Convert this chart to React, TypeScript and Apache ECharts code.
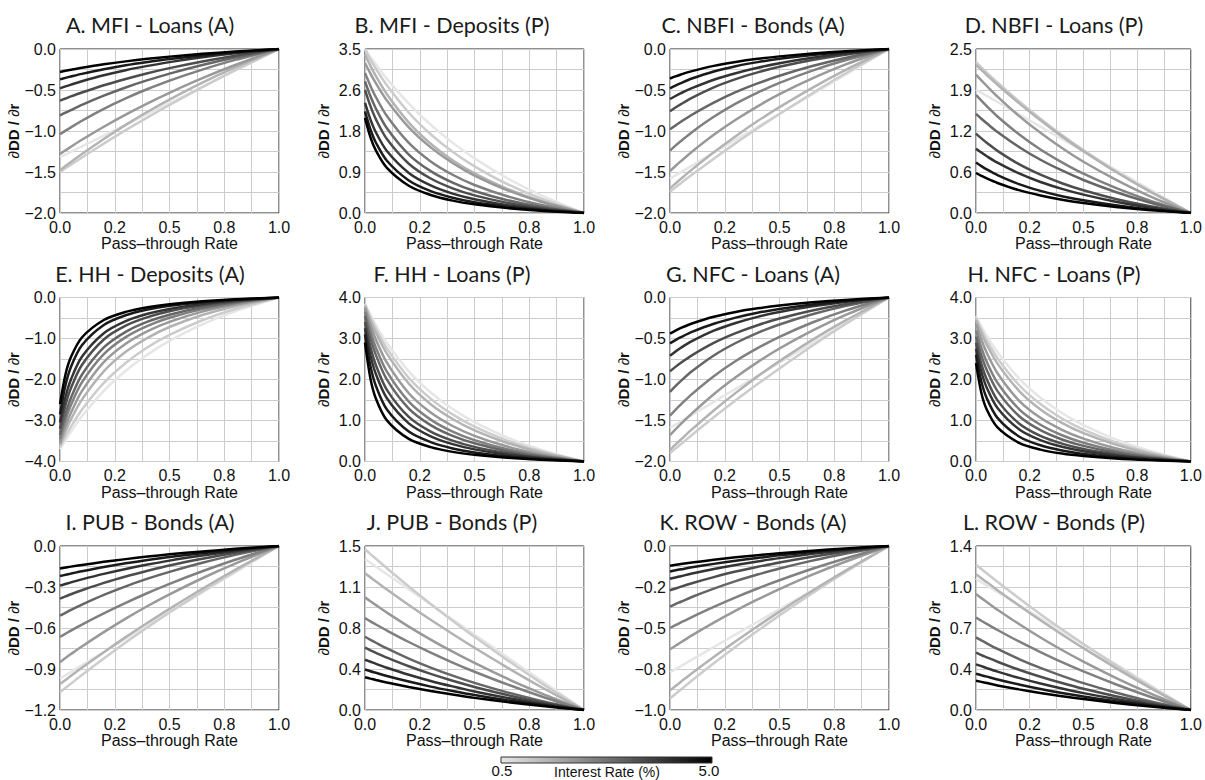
import React, { useEffect, useRef } from "react";
import * as echarts from "echarts";

// ---------- data ----------
const RATES = [0.5, 1.0, 1.5, 2.0, 2.5, 3.0, 3.5, 4.0, 4.5, 5.0];
const PASS_THROUGH = [0, 0.025, 0.05, 0.1, 0.2, 0.3, 0.4, 0.5, 0.65, 0.8, 1];
const X_TICK_LABELS = ["0.0", "0.2", "0.5", "0.8", "1.0"];

const A_MFI_LOANS = [
  [-1.32, -1.287, -1.254, -1.188, -1.056, -0.924, -0.792, -0.66, -0.462, -0.264, 0],
  [-1.5, -1.455, -1.412, -1.323, -1.154, -0.99, -0.834, -0.683, -0.465, -0.258, 0],
  [-1.48, -1.428, -1.378, -1.28, -1.097, -0.925, -0.765, -0.617, -0.411, -0.225, 0],
  [-1.28, -1.235, -1.192, -1.107, -0.948, -0.8, -0.662, -0.534, -0.356, -0.195, 0],
  [-1.04, -0.996, -0.955, -0.875, -0.73, -0.602, -0.488, -0.385, -0.251, -0.133, 0],
  [-0.81, -0.776, -0.744, -0.681, -0.569, -0.469, -0.38, -0.3, -0.195, -0.104, 0],
  [-0.63, -0.604, -0.578, -0.53, -0.442, -0.365, -0.295, -0.233, -0.152, -0.081, 0],
  [-0.48, -0.456, -0.434, -0.393, -0.32, -0.258, -0.206, -0.16, -0.102, -0.053, 0],
  [-0.37, -0.352, -0.335, -0.303, -0.247, -0.199, -0.159, -0.123, -0.078, -0.041, 0],
  [-0.28, -0.266, -0.253, -0.229, -0.187, -0.151, -0.12, -0.093, -0.059, -0.031, 0],
];
const B_MFI_DEPOSITS = [
  [3.5, 3.329, 3.168, 2.863, 2.335, 1.883, 1.502, 1.166, 0.742, 0.389, 0],
  [3.48, 3.271, 3.076, 2.725, 2.14, 1.681, 1.305, 0.995, 0.616, 0.317, 0],
  [3.38, 3.14, 2.92, 2.535, 1.93, 1.479, 1.126, 0.845, 0.514, 0.26, 0],
  [3.2, 2.973, 2.765, 2.4, 1.827, 1.4, 1.066, 0.8, 0.486, 0.246, 0],
  [2.99, 2.712, 2.47, 2.069, 1.495, 1.1, 0.816, 0.598, 0.356, 0.176, 0],
  [2.81, 2.49, 2.226, 1.807, 1.248, 0.894, 0.649, 0.469, 0.273, 0.135, 0],
  [2.63, 2.28, 1.999, 1.578, 1.052, 0.736, 0.526, 0.376, 0.216, 0.105, 0],
  [2.35, 1.993, 1.718, 1.322, 0.855, 0.588, 0.414, 0.294, 0.167, 0.08, 0],
  [2.17, 1.782, 1.499, 1.115, 0.694, 0.467, 0.326, 0.228, 0.13, 0.063, 0],
  [2.03, 1.616, 1.33, 0.962, 0.581, 0.384, 0.264, 0.185, 0.104, 0.049, 0],
];
const C_NBFI_BONDS = [
  [-1.58, -1.541, -1.501, -1.422, -1.264, -1.106, -0.948, -0.79, -0.553, -0.316, 0],
  [-1.74, -1.688, -1.637, -1.535, -1.338, -1.148, -0.967, -0.792, -0.539, -0.299, 0],
  [-1.7, -1.641, -1.583, -1.471, -1.26, -1.063, -0.879, -0.709, -0.473, -0.258, 0],
  [-1.49, -1.427, -1.368, -1.253, -1.046, -0.863, -0.699, -0.551, -0.359, -0.191, 0],
  [-1.24, -1.179, -1.122, -1.014, -0.827, -0.667, -0.532, -0.413, -0.263, -0.138, 0],
  [-0.98, -0.932, -0.887, -0.802, -0.654, -0.527, -0.42, -0.326, -0.208, -0.109, 0],
  [-0.76, -0.714, -0.672, -0.595, -0.467, -0.367, -0.285, -0.217, -0.135, -0.069, 0],
  [-0.61, -0.573, -0.539, -0.478, -0.375, -0.295, -0.229, -0.174, -0.108, -0.056, 0],
  [-0.48, -0.446, -0.415, -0.36, -0.274, -0.21, -0.16, -0.12, -0.073, -0.037, 0],
  [-0.36, -0.334, -0.311, -0.27, -0.206, -0.158, -0.12, -0.09, -0.055, -0.028, 0],
];
const D_NBFI_LOANS = [
  [1.88, 1.833, 1.786, 1.692, 1.504, 1.316, 1.128, 0.94, 0.658, 0.376, 0],
  [2.3, 2.22, 2.141, 1.99, 1.704, 1.438, 1.189, 0.959, 0.639, 0.35, 0],
  [2.26, 2.181, 2.104, 1.955, 1.675, 1.413, 1.168, 0.942, 0.628, 0.344, 0],
  [2.11, 2.021, 1.937, 1.775, 1.481, 1.222, 0.99, 0.781, 0.509, 0.27, 0],
  [1.8, 1.712, 1.629, 1.472, 1.201, 0.968, 0.772, 0.599, 0.382, 0.2, 0],
  [1.51, 1.436, 1.367, 1.235, 1.007, 0.812, 0.648, 0.503, 0.32, 0.168, 0],
  [1.21, 1.137, 1.07, 0.947, 0.744, 0.584, 0.454, 0.346, 0.214, 0.11, 0],
  [0.98, 0.921, 0.866, 0.767, 0.603, 0.473, 0.368, 0.28, 0.173, 0.089, 0],
  [0.77, 0.715, 0.665, 0.578, 0.44, 0.337, 0.256, 0.193, 0.117, 0.059, 0],
  [0.61, 0.567, 0.527, 0.458, 0.348, 0.267, 0.203, 0.153, 0.093, 0.047, 0],
];
const E_HH_DEPOSITS = [
  [-3.7, -3.478, -3.271, -2.897, -2.276, -1.787, -1.388, -1.058, -0.655, -0.337, 0],
  [-3.65, -3.391, -3.154, -2.738, -2.084, -1.597, -1.215, -0.913, -0.555, -0.281, 0],
  [-3.6, -3.265, -2.974, -2.491, -1.8, -1.325, -0.983, -0.72, -0.428, -0.212, 0],
  [-3.55, -3.145, -2.812, -2.283, -1.576, -1.129, -0.82, -0.593, -0.344, -0.17, 0],
  [-3.45, -2.991, -2.622, -2.07, -1.38, -0.966, -0.69, -0.493, -0.283, -0.138, 0],
  [-3.35, -2.841, -2.449, -1.884, -1.219, -0.838, -0.59, -0.419, -0.238, -0.114, 0],
  [-3.2, -2.627, -2.211, -1.645, -1.024, -0.688, -0.48, -0.336, -0.192, -0.093, 0],
  [-3.05, -2.428, -1.998, -1.446, -0.872, -0.576, -0.397, -0.278, -0.156, -0.073, 0],
  [-2.85, -2.138, -1.693, -1.166, -0.67, -0.433, -0.294, -0.202, -0.114, -0.054, 0],
  [-2.6, -1.877, -1.453, -0.975, -0.549, -0.351, -0.237, -0.163, -0.091, -0.042, 0],
];
const F_HH_LOANS = [
  [3.85, 3.577, 3.326, 2.888, 2.198, 1.684, 1.282, 0.963, 0.585, 0.296, 0],
  [3.83, 3.516, 3.233, 2.758, 2.041, 1.532, 1.149, 0.85, 0.509, 0.257, 0],
  [3.8, 3.447, 3.139, 2.63, 1.9, 1.398, 1.037, 0.76, 0.452, 0.224, 0],
  [3.75, 3.323, 2.97, 2.411, 1.665, 1.193, 0.866, 0.626, 0.364, 0.18, 0],
  [3.65, 3.165, 2.774, 2.19, 1.46, 1.022, 0.73, 0.522, 0.299, 0.146, 0],
  [3.55, 3.01, 2.595, 1.997, 1.292, 0.888, 0.625, 0.444, 0.252, 0.121, 0],
  [3.4, 2.791, 2.349, 1.748, 1.088, 0.731, 0.51, 0.357, 0.204, 0.099, 0],
  [3.25, 2.587, 2.129, 1.541, 0.93, 0.614, 0.423, 0.296, 0.166, 0.078, 0],
  [3.1, 2.325, 1.841, 1.268, 0.729, 0.471, 0.319, 0.22, 0.124, 0.059, 0],
  [2.9, 2.018, 1.531, 1.003, 0.551, 0.351, 0.235, 0.162, 0.09, 0.042, 0],
];
const G_NFC_LOANS_A = [
  [-1.59, -1.55, -1.511, -1.431, -1.272, -1.113, -0.954, -0.795, -0.557, -0.318, 0],
  [-1.9, -1.843, -1.788, -1.676, -1.461, -1.254, -1.056, -0.865, -0.589, -0.327, 0],
  [-1.86, -1.795, -1.732, -1.609, -1.378, -1.163, -0.962, -0.776, -0.517, -0.283, 0],
  [-1.68, -1.609, -1.542, -1.413, -1.179, -0.973, -0.788, -0.622, -0.405, -0.215, 0],
  [-1.44, -1.369, -1.303, -1.178, -0.96, -0.775, -0.618, -0.48, -0.305, -0.16, 0],
  [-1.15, -1.081, -1.017, -0.9, -0.707, -0.555, -0.431, -0.329, -0.204, -0.105, 0],
  [-0.9, -0.846, -0.796, -0.705, -0.554, -0.435, -0.338, -0.257, -0.159, -0.082, 0],
  [-0.71, -0.66, -0.613, -0.533, -0.405, -0.311, -0.236, -0.178, -0.108, -0.055, 0],
  [-0.56, -0.52, -0.484, -0.42, -0.32, -0.245, -0.186, -0.14, -0.085, -0.043, 0],
  [-0.44, -0.404, -0.371, -0.317, -0.235, -0.176, -0.132, -0.098, -0.059, -0.029, 0],
];
const H_NFC_LOANS_P = [
  [3.55, 3.298, 3.067, 2.663, 2.027, 1.553, 1.182, 0.888, 0.54, 0.273, 0],
  [3.5, 3.213, 2.954, 2.52, 1.866, 1.4, 1.05, 0.777, 0.466, 0.235, 0],
  [3.45, 3.129, 2.85, 2.387, 1.725, 1.27, 0.942, 0.69, 0.411, 0.204, 0],
  [3.35, 2.968, 2.653, 2.154, 1.487, 1.065, 0.774, 0.559, 0.325, 0.161, 0],
  [3.2, 2.774, 2.432, 1.92, 1.28, 0.896, 0.64, 0.458, 0.262, 0.128, 0],
  [3.05, 2.586, 2.23, 1.716, 1.11, 0.763, 0.537, 0.381, 0.217, 0.104, 0],
  [2.9, 2.381, 2.004, 1.491, 0.928, 0.624, 0.435, 0.305, 0.174, 0.084, 0],
  [2.75, 2.189, 1.801, 1.304, 0.787, 0.52, 0.358, 0.25, 0.14, 0.066, 0],
  [2.6, 1.95, 1.544, 1.063, 0.611, 0.395, 0.268, 0.185, 0.104, 0.049, 0],
  [2.4, 1.67, 1.267, 0.83, 0.456, 0.29, 0.194, 0.134, 0.074, 0.035, 0],
];
const I_PUB_BONDS_A = [
  [-0.97, -0.946, -0.922, -0.873, -0.776, -0.679, -0.582, -0.485, -0.34, -0.194, 0],
  [-1.07, -1.038, -1.007, -0.944, -0.823, -0.706, -0.595, -0.487, -0.332, -0.184, 0],
  [-1.01, -0.98, -0.95, -0.891, -0.777, -0.667, -0.562, -0.46, -0.313, -0.174, 0],
  [-0.85, -0.82, -0.791, -0.735, -0.63, -0.531, -0.439, -0.354, -0.236, -0.129, 0],
  [-0.665, -0.642, -0.619, -0.575, -0.493, -0.416, -0.344, -0.277, -0.185, -0.101, 0],
  [-0.51, -0.489, -0.468, -0.429, -0.358, -0.295, -0.239, -0.189, -0.123, -0.065, 0],
  [-0.385, -0.369, -0.353, -0.324, -0.27, -0.223, -0.181, -0.142, -0.093, -0.049, 0],
  [-0.29, -0.278, -0.266, -0.244, -0.204, -0.168, -0.136, -0.107, -0.07, -0.037, 0],
  [-0.22, -0.211, -0.202, -0.185, -0.154, -0.127, -0.103, -0.081, -0.053, -0.028, 0],
  [-0.165, -0.158, -0.151, -0.139, -0.116, -0.096, -0.077, -0.061, -0.04, -0.021, 0],
];
const J_PUB_BONDS_P = [
  [1.38, 1.346, 1.311, 1.242, 1.104, 0.966, 0.828, 0.69, 0.483, 0.276, 0],
  [1.47, 1.426, 1.383, 1.297, 1.13, 0.97, 0.817, 0.669, 0.456, 0.253, 0],
  [1.25, 1.213, 1.176, 1.103, 0.961, 0.825, 0.695, 0.569, 0.388, 0.215, 0],
  [1.03, 0.994, 0.959, 0.891, 0.763, 0.644, 0.533, 0.43, 0.286, 0.157, 0],
  [0.84, 0.811, 0.782, 0.727, 0.622, 0.525, 0.434, 0.35, 0.234, 0.128, 0],
  [0.67, 0.642, 0.615, 0.563, 0.47, 0.388, 0.314, 0.248, 0.161, 0.086, 0],
  [0.57, 0.546, 0.523, 0.479, 0.4, 0.33, 0.267, 0.211, 0.137, 0.073, 0],
  [0.46, 0.441, 0.422, 0.387, 0.323, 0.266, 0.216, 0.17, 0.111, 0.059, 0],
  [0.37, 0.354, 0.34, 0.311, 0.26, 0.214, 0.174, 0.137, 0.089, 0.047, 0],
  [0.3, 0.287, 0.275, 0.252, 0.211, 0.174, 0.141, 0.111, 0.072, 0.038, 0],
];
const K_ROW_BONDS_A = [
  [-0.77, -0.751, -0.732, -0.693, -0.616, -0.539, -0.462, -0.385, -0.27, -0.154, 0],
  [-0.93, -0.902, -0.875, -0.82, -0.715, -0.614, -0.517, -0.423, -0.288, -0.16, 0],
  [-0.88, -0.854, -0.828, -0.776, -0.677, -0.581, -0.489, -0.4, -0.273, -0.151, 0],
  [-0.63, -0.608, -0.587, -0.545, -0.467, -0.394, -0.326, -0.263, -0.175, -0.096, 0],
  [-0.5, -0.483, -0.466, -0.433, -0.371, -0.313, -0.259, -0.209, -0.139, -0.076, 0],
  [-0.37, -0.354, -0.34, -0.311, -0.26, -0.214, -0.174, -0.137, -0.089, -0.047, 0],
  [-0.27, -0.259, -0.248, -0.227, -0.19, -0.156, -0.127, -0.1, -0.065, -0.035, 0],
  [-0.2, -0.192, -0.184, -0.168, -0.14, -0.116, -0.094, -0.074, -0.048, -0.026, 0],
  [-0.155, -0.148, -0.142, -0.13, -0.109, -0.09, -0.073, -0.057, -0.037, -0.02, 0],
  [-0.12, -0.115, -0.11, -0.101, -0.084, -0.069, -0.056, -0.044, -0.029, -0.015, 0],
];
const L_ROW_BONDS_P = [
  [1.12, 1.092, 1.064, 1.008, 0.896, 0.784, 0.672, 0.56, 0.392, 0.224, 0],
  [1.24, 1.203, 1.167, 1.094, 0.954, 0.818, 0.689, 0.564, 0.384, 0.213, 0],
  [1.16, 1.125, 1.092, 1.023, 0.892, 0.766, 0.645, 0.528, 0.36, 0.2, 0],
  [0.99, 0.955, 0.922, 0.856, 0.734, 0.619, 0.512, 0.413, 0.275, 0.15, 0],
  [0.79, 0.762, 0.735, 0.683, 0.585, 0.494, 0.408, 0.329, 0.22, 0.12, 0],
  [0.62, 0.594, 0.569, 0.521, 0.435, 0.359, 0.291, 0.229, 0.149, 0.079, 0],
  [0.49, 0.469, 0.45, 0.412, 0.344, 0.284, 0.23, 0.181, 0.118, 0.063, 0],
  [0.39, 0.374, 0.358, 0.328, 0.274, 0.226, 0.183, 0.144, 0.094, 0.05, 0],
  [0.31, 0.297, 0.285, 0.261, 0.218, 0.179, 0.145, 0.115, 0.075, 0.04, 0],
  [0.25, 0.24, 0.23, 0.21, 0.176, 0.145, 0.117, 0.093, 0.06, 0.032, 0],
];

const PANEL_DATA = [
  A_MFI_LOANS, B_MFI_DEPOSITS, C_NBFI_BONDS, D_NBFI_LOANS,
  E_HH_DEPOSITS, F_HH_LOANS, G_NFC_LOANS_A, H_NFC_LOANS_P,
  I_PUB_BONDS_A, J_PUB_BONDS_P, K_ROW_BONDS_A, L_ROW_BONDS_P,
];
const PANEL_TITLES = [
  "A. MFI - Loans (A)", "B. MFI - Deposits (P)", "C. NBFI - Bonds (A)", "D. NBFI - Loans (P)",
  "E. HH - Deposits (A)", "F. HH - Loans (P)", "G. NFC - Loans (A)", "H. NFC - Loans (P)",
  "I. PUB - Bonds (A)", "J. PUB - Bonds (P)", "K. ROW - Bonds (A)", "L. ROW - Bonds (P)",
];
const Y_MIN = [-2, 0, -2, 0, -4, 0, -2, 0, -1.2, 0, -1, 0];
const Y_MAX = [0, 3.5, 0, 2.5, 0, 4, 0, 4, 0, 1.5, 0, 1.4];
const Y_TICK_LABELS = [
  ["\u22122.0", "\u22121.5", "\u22121.0", "\u22120.5", "0.0"],
  ["0.0", "0.9", "1.8", "2.6", "3.5"],
  ["\u22122.0", "\u22121.5", "\u22121.0", "\u22120.5", "0.0"],
  ["0.0", "0.6", "1.2", "1.9", "2.5"],
  ["\u22124.0", "\u22123.0", "\u22122.0", "\u22121.0", "0.0"],
  ["0.0", "1.0", "2.0", "3.0", "4.0"],
  ["\u22122.0", "\u22121.5", "\u22121.0", "\u22120.5", "0.0"],
  ["0.0", "1.0", "2.0", "3.0", "4.0"],
  ["\u22121.2", "\u22120.9", "\u22120.6", "\u22120.3", "0.0"],
  ["0.0", "0.4", "0.8", "1.1", "1.5"],
  ["\u22121.0", "\u22120.8", "\u22120.5", "\u22120.2", "0.0"],
  ["0.0", "0.4", "0.7", "1.0", "1.4"],
];
const COLORBAR_LABELS = ["0.5", "5.0"];

// ---------- styles / layout ----------
const LINE_COLORS = [
  "#e6e6e6", "#cccccc", "#b3b3b3", "#999999", "#808080",
  "#666666", "#4d4d4d", "#333333", "#1a1a1a", "#000000",
];
const GRID_LEFTS = [60, 365, 670, 976];
const GRID_TOPS = [49, 297.5, 546];
const GRID_W = 219;
const GRID_H = 164;
const CELL_CENTERS = [150, 452, 753, 1054];
const AXIS_FONT = "'Liberation Sans', Arial, Helvetica, sans-serif";
const TITLE_FONT = "Lato, 'Open Sans', sans-serif";

function buildOption() {
  const grid: any[] = [];
  const xAxis: any[] = [];
  const yAxis: any[] = [];
  const series: any[] = [];
  const graphic: any[] = [];

  PANEL_DATA.forEach((panel, p) => {
    const col = p % 4;
    const row = Math.floor(p / 4);
    const left = GRID_LEFTS[col];
    const top = GRID_TOPS[row];
    grid.push({
      left, top, width: GRID_W, height: GRID_H,
      show: true, borderColor: "#222", borderWidth: 1, backgroundColor: "transparent",
    });
    xAxis.push({
      type: "value", gridIndex: p, min: 0, max: 1, interval: 0.125,
      axisLine: { show: false }, axisTick: { show: false },
      splitLine: { show: true, lineStyle: { color: "#cccccc", width: 1 } },
      axisLabel: {
        color: "#111", fontFamily: AXIS_FONT, fontSize: 16, margin: 6,
        formatter: (v: number) => {
          const idx = Math.round(v / 0.125);
          return idx % 2 === 0 ? X_TICK_LABELS[idx / 2] : "";
        },
      },
      name: "Pass\u2013through Rate", nameLocation: "middle", nameGap: 11,
      nameTextStyle: { color: "#111", fontFamily: AXIS_FONT, fontSize: 16 },
    });
    const ymin = Y_MIN[p];
    const ymax = Y_MAX[p];
    const step = (ymax - ymin) / 8;
    const labels = Y_TICK_LABELS[p];
    yAxis.push({
      type: "value", gridIndex: p, min: ymin, max: ymax, interval: step,
      axisLine: { show: false }, axisTick: { show: false },
      splitLine: { show: true, lineStyle: { color: "#cccccc", width: 1 } },
      axisLabel: {
        color: "#111", fontFamily: AXIS_FONT, fontSize: 16, margin: 4,
        formatter: (v: number) => {
          const idx = Math.round((v - ymin) / step);
          return idx % 2 === 0 ? labels[idx / 2] : "";
        },
      },
      name: "{n|\u2202}{b|DD / }{n|\u2202}{b|r}",
      nameLocation: "middle", nameGap: 34, nameRotate: 90,
      nameTextStyle: {
        color: "#111", fontFamily: AXIS_FONT, fontSize: 15,
        rich: {
          n: { fontFamily: AXIS_FONT, fontSize: 15, color: "#111" },
          b: { fontFamily: AXIS_FONT, fontSize: 15, fontWeight: "bold", color: "#111" },
        },
      },
    });
    panel.forEach((vals, r) => {
      series.push({
        type: "line", name: `${PANEL_TITLES[p]} ${RATES[r]}`,
        xAxisIndex: p, yAxisIndex: p,
        data: PASS_THROUGH.map((x, j) => [x, vals[j]]),
        showSymbol: false, symbol: "none", smooth: 0.3,
        lineStyle: { width: 2.5, color: LINE_COLORS[r] },
        silent: true, z: 2 + r,
      });
    });
    graphic.push({
      type: "text", x: CELL_CENTERS[col], y: top - 24,
      style: {
        text: PANEL_TITLES[p], align: "center", verticalAlign: "middle",
        font: `21.5px ${TITLE_FONT}`, fill: "#1a1a1a",
      },
    });
  });

  // colour bar
  graphic.push({
    type: "rect", shape: { x: 501, y: 757, width: 211, height: 6 },
    style: {
      fill: new echarts.graphic.LinearGradient(0, 0, 1, 0, [
        { offset: 0, color: LINE_COLORS[0] },
        { offset: 1, color: LINE_COLORS[LINE_COLORS.length - 1] },
      ]),
      stroke: "#333", lineWidth: 1,
    },
  });
  graphic.push({
    type: "text", x: 502, y: 770,
    style: { text: COLORBAR_LABELS[0], align: "center", verticalAlign: "middle", font: `15px ${AXIS_FONT}`, fill: "#111" },
  });
  graphic.push({
    type: "text", x: 709, y: 770,
    style: { text: COLORBAR_LABELS[1], align: "center", verticalAlign: "middle", font: `15px ${AXIS_FONT}`, fill: "#111" },
  });
  graphic.push({
    type: "text", x: 607, y: 772,
    style: { text: "Interest Rate (%)", align: "center", verticalAlign: "middle", font: `14px ${AXIS_FONT}`, fill: "#111" },
  });

  return {
    animation: false,
    backgroundColor: "#ffffff",
    grid, xAxis, yAxis, series, graphic,
  };
}

export default function App() {
  const ref = useRef<HTMLDivElement>(null);
  useEffect(() => {
    if (!ref.current) return;
    const chart = echarts.init(ref.current, undefined, { renderer: "svg" });
    chart.setOption(buildOption() as any);
    return () => chart.dispose();
  }, []);
  return (
    <div
      ref={ref}
      style={{ position: "fixed", left: 0, top: 0, width: 1205, height: 780, background: "#fff" }}
    />
  );
}
